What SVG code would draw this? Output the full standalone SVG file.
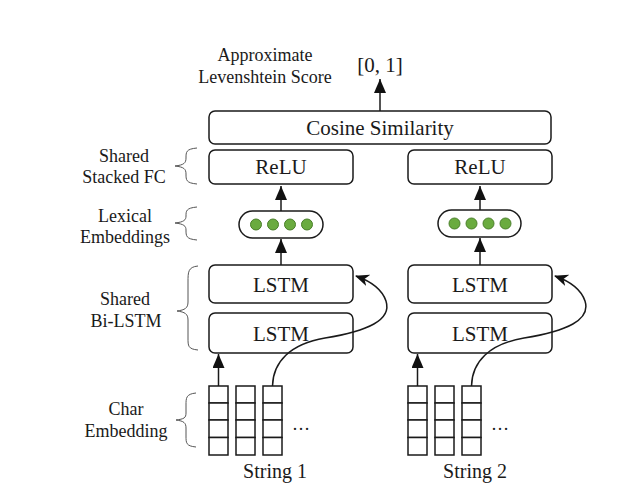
<svg xmlns="http://www.w3.org/2000/svg" width="618" height="501" viewBox="0 0 618 501">
<style>
text{font-family:"Liberation Serif","Times New Roman",serif;fill:#1a1a1a;text-anchor:middle}
.box{fill:#fff;stroke:#1a1a1a;stroke-width:1.5}
.lbl{font-size:18px}
.big{font-size:21px}
.cell{fill:#fff;stroke:#1a1a1a;stroke-width:1.5}
.dot{fill:#6aab3f;stroke:#4a7f2a;stroke-width:1}
.brace{fill:none;stroke:#555;stroke-width:1}
.con{fill:none;stroke:#1a1a1a;stroke-width:1.5}
</style>
<defs>
<marker id="tri" viewBox="0 0 14 12" refX="14" refY="6" markerWidth="14" markerHeight="12" markerUnits="userSpaceOnUse" orient="auto">
<path d="M0,0 L14,6 L0,12 z" fill="#111"/>
</marker>
<marker id="stealth" viewBox="0 0 14 12" refX="13" refY="6" markerWidth="14" markerHeight="12" markerUnits="userSpaceOnUse" orient="auto">
<path d="M0,0 L14,6 L0,12 L4,6 z" fill="#111"/>
</marker>
<g id="col">
<rect class="cell" x="0" y="0" width="19" height="17"/>
<rect class="cell" x="0" y="17" width="19" height="17"/>
<rect class="cell" x="0" y="34" width="19" height="17.5"/>
<rect class="cell" x="0" y="51.5" width="19" height="17.5"/>
</g>
</defs>

<g id="labels">
<text class="lbl" x="265" y="61">Approximate</text>
<text class="lbl" x="265" y="83">Levenshtein Score</text>
<text class="lbl" x="124" y="162">Shared</text>
<text class="lbl" x="124" y="183">Stacked FC</text>
<text class="lbl" x="125" y="222">Lexical</text>
<text class="lbl" x="125" y="243">Embeddings</text>
<text class="lbl" x="125" y="305">Shared</text>
<text class="lbl" x="126" y="327">Bi-LSTM</text>
<text class="lbl" x="126" y="415">Char</text>
<text class="lbl" x="126" y="437">Embedding</text>
</g>

<g id="braces">
<path class="brace" d="M197,148 C186,149 186,152 186,158 C186,163 184,165 175,166 C184,167 186,169 186,174 C186,180 186,183 197,184"/>
<path class="brace" d="M197,207 C186,208 186,211 186,216 C186,220 184,222 175,223 C184,224 186,226 186,230 C186,236 186,239 197,240"/>
<path class="brace" d="M198,266 C188,267 188,272 188,282 L188,302 C188,308 185,310 177,311 C185,312 188,314 188,320 L188,338 C188,346 188,349 198,350"/>
<path class="brace" d="M196,393 C186,394 186,398 186,405 L186,413 C186,418 184,419 176,420 C184,421 186,423 186,428 L186,436 C186,443 186,446 196,447"/>
</g>

<g id="score">
<text class="big" x="380" y="72">[0, 1]</text>
</g>

<g id="cosine">
<rect class="box" x="209" y="111" width="342" height="33" rx="6"/>
<text class="big" x="380" y="135">Cosine Similarity</text>
</g>

<g id="relu1">
<rect class="box" x="209" y="150" width="144" height="34" rx="6"/>
<text class="big" x="281" y="174">ReLU</text>
</g>
<g id="relu2">
<rect class="box" x="408" y="150" width="144" height="34" rx="6"/>
<text class="big" x="480" y="174">ReLU</text>
</g>

<g id="emb1">
<rect class="box" x="239" y="211" width="84" height="27" rx="13.5"/>
<circle class="dot" cx="256" cy="224.5" r="5.5"/>
<circle class="dot" cx="273" cy="224.5" r="5.5"/>
<circle class="dot" cx="290" cy="224.5" r="5.5"/>
<circle class="dot" cx="307" cy="224.5" r="5.5"/>
</g>
<g id="emb2">
<rect class="box" x="438" y="210" width="83" height="27" rx="13.5"/>
<circle class="dot" cx="454.5" cy="223.5" r="5.5"/>
<circle class="dot" cx="471.5" cy="223.5" r="5.5"/>
<circle class="dot" cx="488.5" cy="223.5" r="5.5"/>
<circle class="dot" cx="505.5" cy="223.5" r="5.5"/>
</g>

<g id="lstm1top">
<rect class="box" x="209" y="265" width="144" height="38" rx="6"/>
<text class="big" x="281" y="292">LSTM</text>
</g>
<g id="lstm1bot">
<rect class="box" x="209" y="313" width="144" height="40" rx="6"/>
<text class="big" x="281" y="341">LSTM</text>
</g>
<g id="lstm2top">
<rect class="box" x="408" y="265" width="144" height="38" rx="6"/>
<text class="big" x="480" y="292">LSTM</text>
</g>
<g id="lstm2bot">
<rect class="box" x="408" y="313" width="144" height="40" rx="6"/>
<text class="big" x="480" y="341">LSTM</text>
</g>

<g id="chars1">
<use href="#col" x="209" y="386"/>
<use href="#col" x="236" y="386"/>
<use href="#col" x="263" y="386"/>
<text class="lbl" x="301" y="430">…</text>
<text style="font-size:20px" x="275" y="478">String 1</text>
</g>
<g id="chars2">
<use href="#col" x="408" y="386"/>
<use href="#col" x="435" y="386"/>
<use href="#col" x="462" y="386"/>
<text class="lbl" x="500" y="430">…</text>
<text style="font-size:20px" x="475" y="478">String 2</text>
</g>

<g id="connectors">
<line class="con" x1="380" y1="111" x2="380" y2="79" marker-end="url(#tri)"/>
<line class="con" x1="281" y1="211" x2="281" y2="186" marker-end="url(#tri)"/>
<line class="con" x1="480" y1="210" x2="480" y2="186" marker-end="url(#tri)"/>
<line class="con" x1="281" y1="265" x2="281" y2="239" marker-end="url(#tri)"/>
<line class="con" x1="480" y1="265" x2="480" y2="238" marker-end="url(#tri)"/>
<line class="con" x1="218.5" y1="386" x2="218.5" y2="354" marker-end="url(#tri)"/>
<line class="con" x1="417.5" y1="386" x2="417.5" y2="354" marker-end="url(#tri)"/>
<path class="con" d="M272.5,386 C273,362 290,344 325,338 C368,331 392,320 386,301 C382,289 370,281 356,276" marker-end="url(#stealth)"/>
<path class="con" d="M471.5,386 C472,362 489,344 524,338 C567,331 591,320 585,301 C581,289 569,281 555,276" marker-end="url(#stealth)"/>
</g>
</svg>
